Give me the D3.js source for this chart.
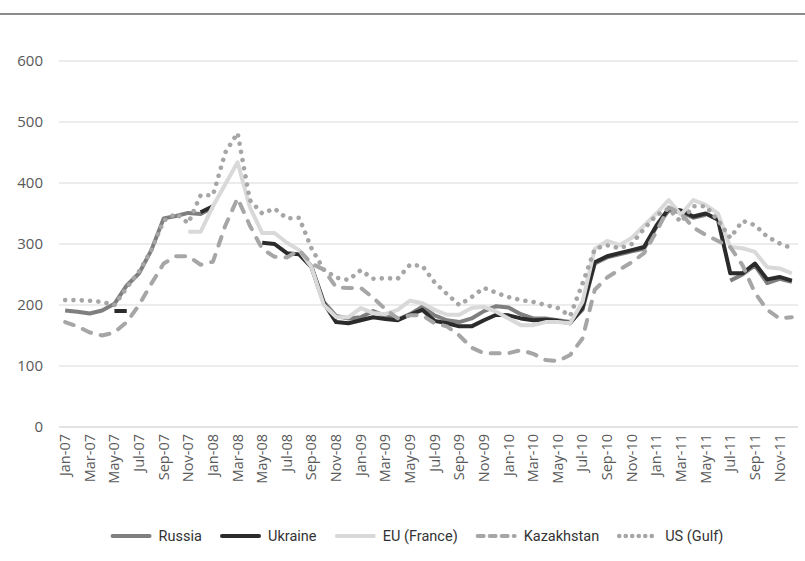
<!DOCTYPE html>
<html>
<head>
<meta charset="utf-8">
<script src="https://cdn.jsdelivr.net/npm/d3@7"></script>
<style>
  body { margin: 0; background: #fff; }
  svg { display: block; }
</style>
</head>
<body>
<svg width="805" height="561"></svg>
<script>
// Monthly labels, Jan-07 .. Dec-11
var months = [
  "Jan-07","Feb-07","Mar-07","Apr-07","May-07","Jun-07","Jul-07","Aug-07","Sep-07","Oct-07","Nov-07","Dec-07",
  "Jan-08","Feb-08","Mar-08","Apr-08","May-08","Jun-08","Jul-08","Aug-08","Sep-08","Oct-08","Nov-08","Dec-08",
  "Jan-09","Feb-09","Mar-09","Apr-09","May-09","Jun-09","Jul-09","Aug-09","Sep-09","Oct-09","Nov-09","Dec-09",
  "Jan-10","Feb-10","Mar-10","Apr-10","May-10","Jun-10","Jul-10","Aug-10","Sep-10","Oct-10","Nov-10","Dec-10",
  "Jan-11","Feb-11","Mar-11","Apr-11","May-11","Jun-11","Jul-11","Aug-11","Sep-11","Oct-11","Nov-11","Dec-11"
];

var yTicks = [0, 100, 200, 300, 400, 500, 600];

// series values (null = no data)
var russia = [
  191,189,186,191,202,232,252,290,342,346,351,349,
  360,null,null,null,null,null,null,288,263,205,182,178,
  180,190,182,176,185,197,183,175,172,178,190,198,
  196,185,178,178,175,172,192,268,278,283,288,292,
  328,355,352,343,348,null,240,250,265,236,243,238
];
var ukraine = [
  null,null,null,null,190,190,null,null,null,null,null,352,
  362,null,null,null,302,300,285,283,262,203,172,170,
  175,180,177,175,184,192,174,170,165,165,175,184,
  183,178,175,176,174,170,195,270,280,285,290,295,
  330,358,355,345,350,340,252,252,268,242,246,240
];
var euFrance = [
  null,null,null,null,null,null,null,null,null,null,320,320,
  362,398,434,360,318,318,302,290,262,200,180,180,
  195,187,185,192,207,203,192,184,184,195,197,189,
  178,167,167,172,172,170,205,292,305,298,310,330,
  350,372,348,372,364,350,295,293,287,262,260,252
];
var kazakhstan = [
  172,165,155,150,155,172,200,235,268,280,280,266,
  271,330,375,330,292,279,278,290,268,258,229,228,
  228,212,193,178,183,183,170,165,150,130,121,121,
  121,126,120,110,108,118,145,225,245,258,270,285,
  320,360,350,327,315,305,295,265,220,192,178,180
];
var usGulf = [
  208,208,207,205,200,228,255,290,338,350,334,380,
  380,450,482,372,350,358,342,343,293,258,245,241,
  257,243,244,243,266,264,237,218,200,213,228,220,
  213,208,205,200,195,182,235,292,298,293,300,325,
  347,358,336,362,362,339,310,338,331,312,301,293
];

var series = [
  { name: "Russia",      values: russia,     color: "#7f7f7f", dash: null },
  { name: "Ukraine",     values: ukraine,    color: "#2b2b2b", dash: null },
  { name: "EU (France)", values: euFrance,   color: "#d9d9d9", dash: null },
  { name: "Kazakhstan",  values: kazakhstan, color: "#a6a6a6", dash: "9 10" },
  { name: "US (Gulf)",   values: usGulf,     color: "#a6a6a6", dash: "0.01 8.3" }
];

var svg = d3.select("svg"),
    width = +svg.attr("width"),
    height = +svg.attr("height");

var plotLeft = 59, plotRight = 798, plotTop = 61, plotBottom = 427;

// rule at the top
svg.append("line")
    .attr("x1", 0).attr("x2", width)
    .attr("y1", 14).attr("y2", 14)
    .attr("stroke", "#8c8c8c")
    .attr("stroke-width", 2)

var x = d3.scalePoint()
    .domain(months)
    .range([plotLeft, plotRight])
    .padding(0.5)

var y = d3.scaleLinear()
    .domain([0, 600])
    .range([plotBottom, plotTop])

// gridlines
svg.append("g")
    .selectAll("line")
    .data(yTicks)
    .enter()
    .append("line")
    .attr("x1", plotLeft)
    .attr("x2", plotRight)
    .attr("y1", function(d){ return y(d) })
    .attr("y2", function(d){ return y(d) })
    .attr("stroke", function(d){ return d === 0 ? "#c8c8c8" : "#d9d9d9" })
    .attr("stroke-width", 1.2)

// y labels
svg.append("g")
    .selectAll("text")
    .data(yTicks)
    .enter()
    .append("text")
    .attr("x", 43)
    .attr("y", function(d){ return y(d) })
    .attr("dy", "0.35em")
    .attr("text-anchor", "end")
    .style("font-family", "'Open Sans', sans-serif")
    .style("font-size", "15px")
    .style("fill", "#595959")
    .text(function(d){ return d })

// x labels, every second month
svg.append("g")
    .selectAll("text")
    .data(months.filter(function(d, i){ return i % 2 === 0 }))
    .enter()
    .append("text")
    .attr("transform", function(d){ return "translate(" + (x(d) + 5) + "," + 434 + ") rotate(-90)" })
    .attr("text-anchor", "end")
    .style("font-family", "'Open Sans', sans-serif")
    .style("font-size", "14.5px")
    .style("fill", "#595959")
    .text(function(d){ return d })

// lines
var line = d3.line()
    .defined(function(d){ return d != null })
    .x(function(d, i){ return x(months[i]) })
    .y(function(d){ return y(d) })

svg.append("g")
    .selectAll("path")
    .data(series)
    .enter()
    .append("path")
    .attr("d", function(d){ return line(d.values) })
    .attr("fill", "none")
    .attr("stroke", function(d){ return d.color })
    .attr("stroke-width", function(d){ return d.dash === "0.01 8.3" ? 4.6 : 4 })
    .attr("stroke-linecap", function(d){ return d.dash ? "round" : "butt" })
    .attr("stroke-linejoin", "round")
    .attr("stroke-dasharray", function(d){ return d.dash })

// legend
var legend = svg.append("g")
var legendY = 536, swatchW = 37, gapText = 9, gapItem = 20;

var items = legend.selectAll("g")
    .data(series)
    .enter()
    .append("g")

items.append("line")
    .attr("x1", 0).attr("x2", swatchW)
    .attr("y1", 0).attr("y2", 0)
    .attr("stroke", function(d){ return d.color })
    .attr("stroke-width", function(d){ return d.dash === "0.01 8.3" ? 4.6 : 4 })
    .attr("stroke-linecap", "round")
    .attr("stroke-dasharray", function(d){ return d.dash === "9 10" ? "6 6" : (d.dash ? "0.01 6.5" : null) })

items.append("text")
    .attr("x", swatchW + gapText)
    .attr("dy", "0.35em")
    .style("font-family", "Roboto, sans-serif")
    .style("font-size", "14.5px")
    .style("fill", "#333")
    .text(function(d){ return d.name })

// place items side by side, centered
var offs = [], pos = 0;
items.each(function(){
    offs.push(pos);
    pos += this.getBBox().width + gapItem;
})
var total = pos - gapItem;
var start = 418 - total / 2;
items.attr("transform", function(d, i){ return "translate(" + (start + offs[i]) + "," + legendY + ")" })
</script>
</body>
</html>
